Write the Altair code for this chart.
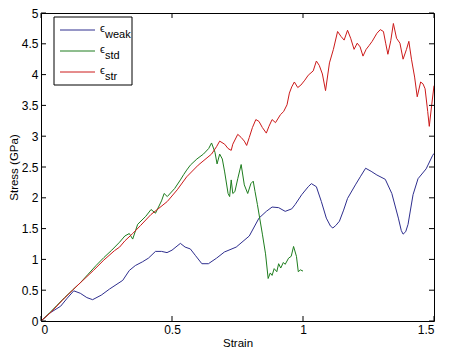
import altair as alt
import pandas as pd

# ---------------- data ----------------
weak_x = [0, 0.0375, 0.075, 0.1, 0.125, 0.15, 0.175, 0.197, 0.23, 0.262, 0.312, 0.337, 0.36, 0.387,
          0.41, 0.437, 0.46, 0.481, 0.5, 0.532, 0.55, 0.57, 0.59, 0.614, 0.639, 0.67, 0.70, 0.745,
          0.795, 0.832, 0.86, 0.882, 0.907, 0.932, 0.957, 0.97, 0.995, 1.02, 1.032, 1.051, 1.07,
          1.089, 1.105, 1.114, 1.125, 1.139, 1.155, 1.17, 1.20, 1.22, 1.239, 1.26, 1.282, 1.314,
          1.339, 1.364, 1.375, 1.382, 1.392, 1.401, 1.42, 1.439, 1.47, 1.495, 1.5]
weak_y = [0, 0.14, 0.24, 0.37, 0.49, 0.45, 0.38, 0.346, 0.42, 0.52, 0.66, 0.82, 0.90, 0.96,
          1.02, 1.13, 1.13, 1.11, 1.15, 1.26, 1.20, 1.17, 1.06, 0.93, 0.93, 1.02, 1.12, 1.20,
          1.38, 1.67, 1.78, 1.85, 1.84, 1.78, 1.82, 1.89, 2.05, 2.18, 2.23, 2.18, 1.94,
          1.67, 1.54, 1.51, 1.55, 1.62, 1.80, 1.99, 2.21, 2.35, 2.48, 2.43, 2.37, 2.30,
          2.07, 1.67, 1.47, 1.41, 1.45, 1.57, 2.05, 2.31, 2.47, 2.69, 2.72]

std_x = [0, 0.03, 0.06, 0.09, 0.12, 0.15, 0.18, 0.21, 0.24, 0.27, 0.30, 0.32, 0.337, 0.35, 0.369,
         0.40, 0.42, 0.437, 0.46, 0.47, 0.482, 0.51, 0.532, 0.545, 0.556, 0.57, 0.595, 0.62,
         0.64, 0.651, 0.664, 0.672, 0.682, 0.692, 0.701, 0.714, 0.72, 0.726, 0.732, 0.74, 0.751,
         0.764, 0.776, 0.789, 0.801, 0.81, 0.817, 0.826, 0.845, 0.857, 0.867, 0.875, 0.882, 0.89,
         0.9, 0.907, 0.915, 0.925, 0.932, 0.945, 0.955, 0.964, 0.975, 0.982, 0.99, 1.0]
std_y = [0, 0.12, 0.25, 0.38, 0.50, 0.62, 0.76, 0.90, 1.03, 1.15, 1.28, 1.38, 1.42, 1.33, 1.57,
         1.70, 1.81, 1.75, 1.95, 2.07, 2.02, 2.15, 2.29, 2.38, 2.45, 2.53, 2.63, 2.71,
         2.80, 2.89, 2.74, 2.55, 2.71, 2.63, 2.42, 2.07, 2.02, 2.29, 2.07, 2.10, 2.31,
         2.54, 2.21, 2.07, 2.23, 2.27, 2.10, 1.89, 1.41, 1.09, 0.69, 0.78, 0.74, 0.85,
         0.80, 0.93, 0.86, 0.95, 0.92, 1.02, 1.05, 1.21, 1.05, 0.80, 0.83, 0.81]

str_x = [0, 0.04, 0.08, 0.12, 0.16, 0.2, 0.24, 0.28, 0.3, 0.32, 0.35, 0.38, 0.42, 0.45, 0.482,
         0.52, 0.556, 0.6, 0.651, 0.67, 0.682, 0.701, 0.714, 0.726, 0.732, 0.751, 0.764, 0.776,
         0.785, 0.795, 0.807, 0.82, 0.832, 0.845, 0.86, 0.87, 0.882, 0.895, 0.914, 0.926, 0.939,
         0.948, 0.957, 0.967, 0.98, 0.992, 1.007, 1.02, 1.039, 1.051, 1.062, 1.074, 1.086, 1.101,
         1.116, 1.132, 1.145, 1.157, 1.17, 1.182, 1.195, 1.207, 1.218, 1.229, 1.241, 1.252, 1.264,
         1.282, 1.295, 1.307, 1.316, 1.324, 1.335, 1.345, 1.357, 1.37, 1.382, 1.395, 1.404, 1.414,
         1.426, 1.436, 1.449, 1.458, 1.466, 1.476, 1.482, 1.491, 1.5]
str_y = [0, 0.15, 0.33, 0.50, 0.66, 0.82, 0.99, 1.14, 1.20, 1.30, 1.42, 1.55, 1.73, 1.83, 1.94,
         2.13, 2.34, 2.53, 2.71, 2.83, 2.92, 2.87, 2.80, 2.77, 2.87, 3.03, 2.98, 2.92,
         2.85, 2.98, 3.14, 3.27, 3.24, 3.14, 3.05, 3.16, 3.27, 3.22, 3.35, 3.40, 3.51,
         3.70, 3.80, 3.88, 3.79, 3.83, 3.91, 3.99, 4.06, 4.22, 4.15, 4.01, 3.74, 4.19,
         4.41, 4.70, 4.62, 4.56, 4.72, 4.59, 4.41, 4.51, 4.45, 4.30, 4.41, 4.47, 4.54,
         4.67, 4.73, 4.70, 4.50, 4.33, 4.55, 4.83, 4.59, 4.51, 4.25, 4.41, 4.54, 4.25,
         3.96, 3.64, 3.88, 3.85, 3.77, 3.40, 3.16, 3.50, 3.82]

series_names = ["weak", "std", "str"]
series_colors = ["#2e2e8e", "#1e7d1e", "#cc1a1a"]

x_ticks = [0, 0.5, 1, 1.5]
y_ticks = [0, 0.5, 1, 1.5, 2, 2.5, 3, 3.5, 4, 4.5, 5]

# ---------------- build ----------------
rows = []
for name, xs, ys in [("weak", weak_x, weak_y), ("std", std_x, std_y), ("str", str_x, str_y)]:
    for i, (a, b) in enumerate(zip(xs, ys)):
        rows.append({"series": name, "i": i, "strain": a, "stress": b})
df = pd.DataFrame(rows)

W, H = 393, 308
FONT = "Liberation Sans"

xscale = alt.Scale(domain=[0, 1.5], nice=False, zero=False)
yscale = alt.Scale(domain=[0, 5], nice=False, zero=False)
xaxis = alt.Axis(values=x_ticks, format="~g", grid=False, ticks=False, tickSize=0,
                 domain=False, labelPadding=3, titlePadding=2)
yaxis = alt.Axis(values=y_ticks, format="~g", grid=False, ticks=False, tickSize=0,
                 domain=False, labelPadding=3, titlePadding=2)

lines = alt.Chart(df).mark_line(strokeWidth=1, clip=True).encode(
    x=alt.X("strain:Q", scale=xscale, title="Strain", axis=xaxis),
    y=alt.Y("stress:Q", scale=yscale, title="Stress (GPa)", axis=yaxis),
    color=alt.Color("series:N", scale=alt.Scale(domain=series_names, range=series_colors),
                    legend=None),
    order="i:Q",
)

xt = pd.DataFrame({"v": x_ticks})
yt = pd.DataFrame({"v": y_ticks})
TL = 5
xt_bottom = alt.Chart(xt).mark_rule(color="black", strokeWidth=1).encode(
    x=alt.X("v:Q", scale=xscale, title="Strain", axis=xaxis), y=alt.value(H), y2=alt.value(H - TL))
xt_top = alt.Chart(xt).mark_rule(color="black", strokeWidth=1).encode(
    x=alt.X("v:Q", scale=xscale, title="Strain", axis=xaxis), y=alt.value(0), y2=alt.value(TL))
yt_left = alt.Chart(yt).mark_rule(color="black", strokeWidth=1).encode(
    y=alt.Y("v:Q", scale=yscale, title="Stress (GPa)", axis=yaxis), x=alt.value(0), x2=alt.value(TL))
yt_right = alt.Chart(yt).mark_rule(color="black", strokeWidth=1).encode(
    y=alt.Y("v:Q", scale=yscale, title="Stress (GPa)", axis=yaxis), x=alt.value(W), x2=alt.value(W - TL))

# legend (pixel positions inside the plot area)
leg = pd.DataFrame({
    "name": series_names,
    "color": series_colors,
    "row": [0, 1, 2],
})
leg["py"] = 17 + leg["row"] * 21
leg["eps"] = "\u03f5"

box = alt.Chart(pd.DataFrame({"a": [0]})).mark_rect(
    fill="white", stroke="black", strokeWidth=1).encode(
    x=alt.value(13), x2=alt.value(91), y=alt.value(4), y2=alt.value(72))
leg_lines = alt.Chart(leg).mark_rule(strokeWidth=1).encode(
    x=alt.value(19), x2=alt.value(54),
    y=alt.Y("py:Q", scale=None),
    color=alt.Color("color:N", scale=None),
)
leg_eps = alt.Chart(leg).mark_text(align="left", baseline="middle", fontSize=11, font=FONT,
                                   color="black", dy=-1).encode(
    x=alt.value(59), y=alt.Y("py:Q", scale=None), text="eps:N")
leg_sub = alt.Chart(leg).mark_text(align="left", baseline="middle", fontSize=11, font=FONT,
                                   color="black", dy=5).encode(
    x=alt.value(64), y=alt.Y("py:Q", scale=None), text="name:N")

chart = alt.layer(lines, xt_bottom, xt_top, yt_left, yt_right, box, leg_lines, leg_eps, leg_sub).properties(
    width=W, height=H,
    autosize=alt.AutoSizeParams(type="none"),
    padding={"left": 33, "top": 5, "right": 8, "bottom": 32},
    background="white",
).configure_view(
    stroke="black", strokeWidth=1
).configure_axis(
    labelFont=FONT, titleFont=FONT, labelFontSize=12, titleFontSize=11.5,
    labelColor="black", titleColor="black", titleFontWeight="normal",
)

chart.save("out.html", embed_options={"renderer": "svg", "actions": False})
